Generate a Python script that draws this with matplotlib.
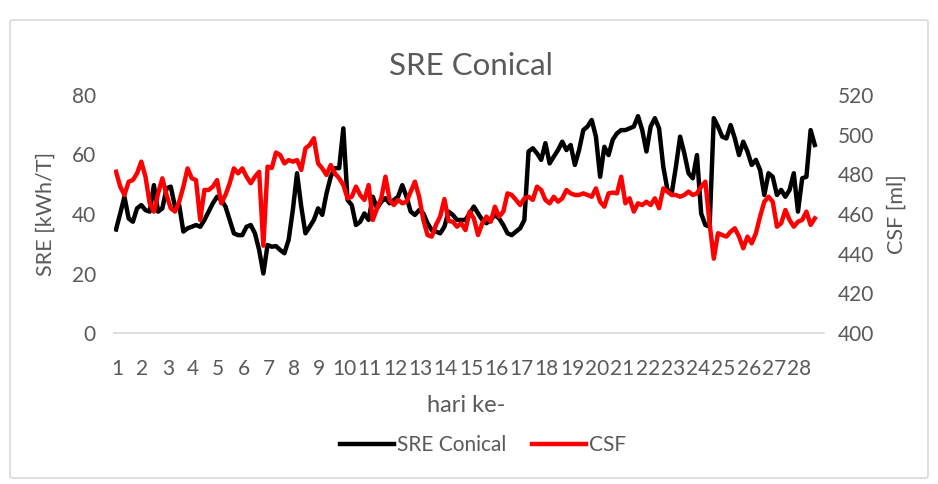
import matplotlib
matplotlib.use("Agg")
import matplotlib.pyplot as plt
from matplotlib.patches import FancyBboxPatch
import numpy as np

plt.rcParams['font.family'] = ['Lato', 'DejaVu Sans']

# data: 6 readings per day, days 1..28
days = [str(d) for d in range(1, 29)]
per_day = 6

sre = [34.8, 40.2, 45.8, 38.5, 37.4, 41.9, 43.0, 41.3, 40.8, 49.7,
       40.8, 41.9, 48.6, 49.2, 42.5, 43.0, 34.1, 35.2, 35.7, 36.3,
       35.7, 38.0, 40.8, 43.6, 45.8, 44.7, 42.5, 38.0, 33.5, 32.9,
       32.9, 35.7, 36.3, 33.5, 27.9, 20.0, 29.6, 29.0, 29.2, 27.9,
       26.8, 31.3, 41.3, 53.7, 42.5, 33.5, 35.7, 38.0, 41.9, 39.7,
       46.9, 52.5, 55.4, 55.4, 68.8, 44.7, 43.0, 36.3, 37.4, 40.2,
       38.0, 45.8, 41.9, 44.1, 45.3, 43.6, 44.7, 45.8, 49.7, 45.8,
       40.8, 39.7, 41.3, 40.2, 36.9, 34.6, 34.1, 33.5, 35.7, 40.8,
       39.7, 38.0, 38.0, 38.0, 40.2, 42.5, 40.2, 38.0, 36.9, 38.0,
       39.7, 38.5, 36.3, 33.5, 32.9, 34.1, 35.2, 38.0, 61.0, 62.1,
       60.4, 58.2, 63.8, 57.0, 59.3, 61.5, 64.3, 61.5, 63.2, 56.5,
       61.5, 68.2, 69.4, 71.6, 66.0, 52.5, 62.6, 59.8, 65.0, 67.1,
       68.2, 68.2, 68.8, 69.4, 72.9, 68.2, 61.0, 69.4, 72.2, 68.8,
       55.9, 48.1, 46.9, 55.9, 66.0, 60.4, 53.7, 52.0, 59.8, 40.2,
       36.3, 35.7, 72.2, 69.4, 66.0, 65.4, 69.9, 65.4, 59.8, 64.3,
       61.0, 56.5, 58.2, 54.8, 46.4, 53.7, 52.5, 46.4, 48.1, 45.8,
       48.1, 53.7, 40.8, 52.0, 52.5, 68.2, 63.2]

csf = [481.3, 473.8, 469.6, 476.3, 477.1, 480.5, 486.4, 478.8, 465.4, 461.2,
       470.4, 478.0, 469.6, 462.9, 461.2, 466.2, 473.8, 483.0, 478.0, 477.1,
       457.0, 472.1, 472.1, 473.8, 477.1, 465.4, 469.6, 475.5, 483.0, 480.5,
       483.0, 478.8, 475.5, 478.8, 481.3, 444.0, 483.9, 483.2, 491.0, 489.7,
       485.5, 487.2, 486.4, 487.2, 482.2, 493.1, 494.8, 498.2, 485.5, 483.0,
       479.7, 484.7, 480.5, 478.0, 474.6, 467.9, 468.7, 473.8, 469.6, 467.1,
       474.6, 457.0, 462.9, 467.9, 478.8, 467.1, 464.5, 467.1, 465.4, 466.2,
       471.3, 476.3, 468.7, 457.0, 449.4, 448.6, 454.5, 458.7, 467.5, 456.5,
       456.1, 453.6, 455.3, 451.9, 461.2, 457.8, 449.4, 455.3, 458.7, 456.1,
       463.7, 458.7, 461.2, 470.4, 469.6, 467.1, 464.5, 467.9, 468.7, 467.1,
       473.8, 472.1, 467.1, 465.4, 468.7, 466.2, 467.9, 472.1, 470.4, 469.6,
       469.6, 470.4, 469.6, 468.7, 472.9, 466.2, 463.7, 470.4, 470.8, 470.4,
       478.8, 465.4, 467.9, 461.2, 465.4, 464.5, 466.2, 464.5, 467.9, 462.9,
       472.9, 471.3, 469.6, 469.6, 468.7, 469.6, 471.3, 469.6, 470.4, 473.8,
       476.3, 455.3, 437.5, 450.3, 449.4, 448.6, 451.1, 452.8, 448.6, 442.7,
       448.6, 445.2, 450.3, 458.7, 466.2, 468.7, 466.2, 453.6, 455.3, 462.0,
       457.0, 453.6, 456.1, 457.0, 461.2, 454.5, 457.8]

x = np.arange(len(sre)) / per_day
txt = '#595959'

fig = plt.figure(figsize=(9.38, 4.84), dpi=100)
fig.patches.append(FancyBboxPatch((10/938, 6/484), 918/938, 458/484,
                                  boxstyle="round,pad=0,rounding_size=0.004",
                                  transform=fig.transFigure, fc='white',
                                  ec='#D9D9D9', lw=1.2, zorder=-1))

ax = fig.add_axes([114/938, 1-333/484, 710/938, 238/484])
ax2 = ax.twinx()

l1, = ax.plot(x, sre, color='black', lw=3.2, solid_joinstyle='round', label='SRE Conical')
l2, = ax2.plot(x, csf, color='#FF0000', lw=3.2, solid_joinstyle='round', label='CSF')

ax.set_xlim(-0.08, 28.03)
ax.set_ylim(0, 80)
ax2.set_ylim(400, 520)
ax.set_yticks(range(0, 81, 20))
ax2.set_yticks(range(400, 521, 20))
ax.set_xticks(np.arange(28) + 0.05)
ax.set_xticklabels(days)

for a in (ax, ax2):
    a.patch.set_visible(False)
    for s in a.spines.values():
        s.set_visible(False)
    a.tick_params(length=0, labelsize=15, labelcolor=txt)
ax.spines['bottom'].set_visible(True)
ax.spines['bottom'].set_color('#D9D9D9')
ax.spines['bottom'].set_linewidth(1.2)
ax.tick_params(axis='x', pad=19)
ax.tick_params(axis='y', pad=13)
ax2.tick_params(axis='y', pad=10)

fig.text(471/938, 1-66/484, 'SRE Conical', ha='center', va='center', fontsize=22.5, color=txt)
fig.text(466/938, 1-405/484, 'hari ke-', ha='center', va='center', fontsize=17, color=txt)
fig.text(46/938, 1-214/484, 'SRE [kWh/T]', ha='center', va='center', rotation=90, fontsize=15.5, color=txt)
fig.text(897/938, 1-214/484, 'CSF [ml]', ha='center', va='center', rotation=90, fontsize=15.5, color=txt)

fig.legend([l1, l2], ['SRE Conical', 'CSF'], loc='center', bbox_to_anchor=(483/938, 1-445/484),
           ncol=2, frameon=False, fontsize=15, labelcolor=txt,
           handlelength=2.6, handletextpad=0.15, columnspacing=1.2)

fig.savefig('out.png', dpi=100)
